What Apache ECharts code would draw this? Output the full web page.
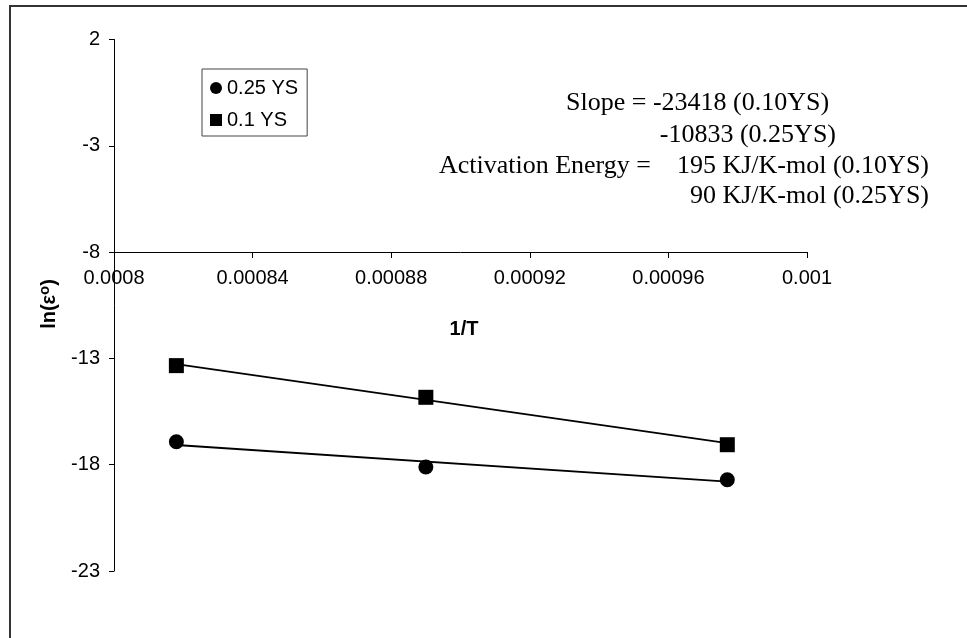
<!DOCTYPE html>
<html>
<head>
<meta charset="utf-8">
<script src="https://cdn.jsdelivr.net/npm/echarts@6/dist/echarts.min.js"></script>
<style>
  html, body { margin: 0; padding: 0; background: #fff; }
  #chart { width: 967px; height: 638px; }
</style>
</head>
<body>
<div id="chart"></div>
<script>
// Reciprocal test temperature, 1/T (1/K)
const invT = [0.000818, 0.00089, 0.000977];
// ln of creep rate for each applied stress level
const lnRate025 = [-16.92, -18.11, -18.71];   // 0.25 YS
const lnRate010 = [-13.34, -14.83, -17.06];   // 0.1 YS
// Linear trend line values at the first and last temperature
const trendX = [0.000818, 0.000977];
const trend025 = [-17.074, -18.796];
const trend010 = [-13.27, -16.99];
// Axis ranges and ticks
const xTicks = { min: 0.0008, max: 0.001, step: 0.00004 };
const yTicks = { min: -23, max: 2, step: 5 };
const seriesNames = ['0.25 YS', '0.1 YS'];
const noteLines = [
  'Slope = -23418 (0.10YS)',
  '-10833 (0.25YS)',
  'Activation Energy =    195 KJ/K-mol (0.10YS)',
  '90 KJ/K-mol (0.25YS)'
];

const pairs = (xs, ys) => xs.map((x, i) => [x, ys[i]]);

const sans = 'Liberation Sans, Arial, sans-serif';
const serif = 'Liberation Serif, Times New Roman, serif';

const chart = echarts.init(document.getElementById('chart'), null, { renderer: 'canvas' });

const gridLeft = 114, gridTop = 39.5, gridW = 693, gridH = 531.5, crossH = 212.5;

chart.setOption({
  animation: false,
  backgroundColor: '#fff',
  grid: [
    { left: gridLeft, top: gridTop, width: gridW, height: gridH },
    { left: gridLeft, top: gridTop, width: gridW, height: crossH }
  ],
  xAxis: [
    {
      gridIndex: 0, type: 'value', show: false,
      min: xTicks.min, max: xTicks.max, interval: xTicks.step
    },
    {
      gridIndex: 1, type: 'value', position: 'bottom',
      min: xTicks.min, max: xTicks.max, interval: xTicks.step,
      axisLine: { onZero: false, lineStyle: { color: '#000', width: 1 } },
      axisTick: { show: true, length: 6, lineStyle: { color: '#000' } },
      axisLabel: { color: '#000', fontFamily: sans, fontSize: 20, margin: 16 },
      splitLine: { show: false }
    }
  ],
  yAxis: [
    {
      gridIndex: 0, type: 'value',
      min: yTicks.min, max: yTicks.max, interval: yTicks.step,
      axisLine: { show: true, onZero: false, lineStyle: { color: '#000', width: 1 } },
      axisTick: { show: true, length: 5, lineStyle: { color: '#000' } },
      axisLabel: { color: '#000', fontFamily: sans, fontSize: 20, margin: 14 },
      splitLine: { show: false }
    },
    {
      gridIndex: 1, type: 'value', show: false,
      min: yTicks.min, max: yTicks.max
    }
  ],
  legend: {
    data: seriesNames,
    orient: 'vertical',
    left: 202, top: 69,
    padding: [9, 9, 6, 8],
    itemGap: 12,
    itemWidth: 12, itemHeight: 12,
    borderColor: '#444', borderWidth: 1,
    itemStyle: { opacity: 1 },
    textStyle: { color: '#000', fontFamily: sans, fontSize: 20 }
  },
  series: [
    {
      name: seriesNames[0], type: 'scatter', symbol: 'circle', symbolSize: 15,
      itemStyle: { color: '#000', opacity: 1 }, z: 5,
      data: pairs(invT, lnRate025)
    },
    {
      name: seriesNames[1], type: 'scatter', symbol: 'rect', symbolSize: 15,
      itemStyle: { color: '#000', opacity: 1 }, z: 5,
      data: pairs(invT, lnRate010)
    },
    {
      name: 'trend 0.25', type: 'line', showSymbol: false, silent: true,
      lineStyle: { color: '#000', width: 1.8 },
      data: pairs(trendX, trend025)
    },
    {
      name: 'trend 0.1', type: 'line', showSymbol: false, silent: true,
      lineStyle: { color: '#000', width: 1.8 },
      data: pairs(trendX, trend010)
    }
  ],
  graphic: [
    {
      type: 'rect', silent: true,
      shape: { x: 10, y: 6, width: 980, height: 660 },
      style: { fill: 'none', stroke: '#333', lineWidth: 2 }
    },
    {
      type: 'text', x: 49.5, y: 304, rotation: Math.PI / 2, silent: true,
      style: {
        text: '{b|ln(ε}{s|o}{b|)}',
        align: 'center', verticalAlign: 'middle',
        rich: {
          b: { fontFamily: sans, fontWeight: 'bold', fontSize: 20, fill: '#000' },
          s: { fontFamily: sans, fontWeight: 'bold', fontSize: 15, fill: '#000', padding: [0, 0, 9, 0] }
        }
      }
    },
    {
      type: 'text', x: 464, y: 329.5, silent: true,
      style: {
        text: '1/T', align: 'center', verticalAlign: 'middle',
        fontFamily: sans, fontWeight: 'bold', fontSize: 20, fill: '#000'
      }
    },
    {
      type: 'text', x: 566, y: 103.3, silent: true,
      style: { text: noteLines[0], align: 'left', verticalAlign: 'middle', fontFamily: serif, fontSize: 26, fill: '#000' }
    },
    {
      type: 'text', x: 836, y: 134.8, silent: true,
      style: { text: noteLines[1], align: 'right', verticalAlign: 'middle', fontFamily: serif, fontSize: 26, fill: '#000' }
    },
    {
      type: 'text', x: 929, y: 166.5, silent: true,
      style: { text: noteLines[2], align: 'right', verticalAlign: 'middle', fontFamily: serif, fontSize: 26, fill: '#000' }
    },
    {
      type: 'text', x: 929, y: 196.5, silent: true,
      style: { text: noteLines[3], align: 'right', verticalAlign: 'middle', fontFamily: serif, fontSize: 26, fill: '#000' }
    }
  ]
});
</script>
</body>
</html>
